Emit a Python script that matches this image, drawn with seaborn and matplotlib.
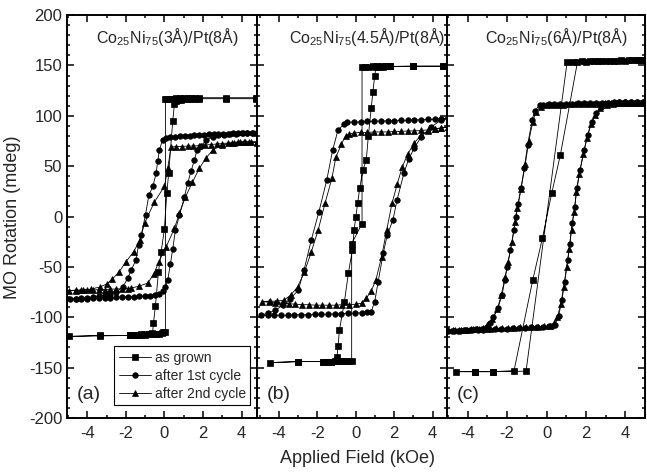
import matplotlib.pyplot as plt
import seaborn as sns
from matplotlib.ticker import MultipleLocator

sns.set_style("ticks")
plt.rcParams['font.family'] = ['Liberation Sans', 'DejaVu Sans']
plt.rcParams['mathtext.default'] = 'regular'
plt.rcParams['axes.unicode_minus'] = False

# %% data: each loop = descending branch then ascending branch
titles = [r'Co$_{25}$Ni$_{75}$(3Å)/Pt(8Å)',
          r'Co$_{25}$Ni$_{75}$(4.5Å)/Pt(8Å)',
          r'Co$_{25}$Ni$_{75}$(6Å)/Pt(8Å)']
panel_tags = ['(a)', '(b)', '(c)']
series_names = ['as grown', 'after 1st cycle', 'after 2nd cycle']

# panel (a)  3 A
a_grown_x = [4.75, 3.2, 1.8, 1.6, 1.4, 1.2, 1.0, 0.85, 0.7, 0.6, 0.52, 0.43, 0.22, 0.12, 0.0,
             -0.17, -0.31, -0.47, -0.57, -0.62, -0.8, -1.0, -1.2, -1.4, -1.6, -1.8, -3.35, -4.95,
             -3.35, -1.8, -1.6, -1.4, -1.2, -1.0, -0.8, -0.6, -0.45, -0.3, -0.15, -0.05, 0.05,
             0.05, 0.15, 0.3, 0.45, 0.6, 0.8, 1.0, 1.2, 1.4, 1.6, 1.8, 3.2, 4.75]
a_grown_y = [117, 117, 117, 117, 117, 117, 117, 116, 116, 115, 112, 95, 43, 23, -12,
             -35, -55, -89, -106, -116, -117, -117, -117, -118, -118, -118, -118, -119,
             -118.5, -118, -118, -118, -117.5, -117.5, -117, -117, -116.5, -116.5, -116, -115, -115,
             117, 117, 117, 117, 117.5, 117.5, 117.5, 117.5, 117.5, 118, 118, 118, 118]
a_first_x = [4.8, 4.55, 4.3, 4.05, 3.8, 3.55, 3.3, 3.05, 2.8, 2.55, 2.3, 2.05, 1.8, 1.55, 1.3,
             1.05, 0.8, 0.55, 0.3, 0.1, -0.1, -0.26, -0.35, -0.43, -0.6, -0.81, -0.98, -1.2,
             -1.34, -1.47, -1.72, -1.9, -2.16, -2.5, -2.8, -3.1, -3.4, -3.7, -4.0, -4.3, -4.6,
             -4.9,
             -4.6, -4.3, -4.0, -3.7, -3.4, -3.1, -2.8, -2.5, -2.2, -1.9, -1.6, -1.3, -1.0,
             -0.75, -0.5, -0.26, -0.1, 0.05, 0.17, 0.31, 0.43, 0.57, 0.78, 1.03, 1.2, 1.38,
             1.55, 1.69, 1.9, 2.16, 2.5, 2.8, 3.1, 3.4, 3.7, 4.0, 4.3, 4.6, 4.8]
a_first_y = [83, 83, 83, 83, 82.5, 82.5, 82, 82, 82, 81.5, 81.5, 81, 81, 80.5, 80,
             80, 79.5, 79, 78.5, 78, 76, 66, 55, 43, 30, 21, 2, -18,
             -28, -43, -53, -61, -70, -75, -77, -78, -79, -80, -80.5, -81, -81.5,
             -82,
             -82, -81.5, -81.5, -81, -81, -80.5, -80.5, -80, -80, -79.5, -79.5, -79, -79,
             -78.5, -78, -77, -74, -70, -63, -47, -32, -13.5, 1.5, 19, 33, 45,
             56, 66, 70, 76, 79, 80.5, 81, 81.5, 82, 82.5, 83, 83, 83]
a_second_x = [4.8, 4.5, 4.2, 3.9, 3.6, 3.3, 3.0, 2.7, 2.4, 2.1, 1.8, 1.5, 1.2, 0.9, 0.6,
              0.34, 0.17, 0.0, -0.52, -1.03, -1.26, -1.6, -2.0, -2.35, -2.7, -3.0, -3.36,
              -3.8, -4.2, -4.6, -4.95,
              -4.6, -4.3, -4.0, -3.7, -3.4, -3.1, -2.8, -2.5, -2.2, -1.9, -1.72, -1.3, -0.86,
              -0.55, -0.29, 0.09, 0.52, 0.78, 1.09, 1.45, 1.81, 2.15, 2.5, 3.0, 3.5, 3.8,
              4.1, 4.4, 4.8]
a_second_y = [74, 74, 74, 74, 73.5, 73, 72.5, 72, 71.5, 71, 70.5, 70, 70, 69.5, 69.5,
              69, 48, 30, 14.5, -6.5, -23, -35, -45, -55, -62, -67, -70,
              -72, -73, -73, -73.5,
              -73.5, -73, -73, -73, -72.5, -72.5, -72, -72, -71.5, -71.5, -71, -69, -66,
              -57, -45, -30, -11.6, 3.5, 19.5, 34, 48, 58, 66, 71, 73, 74,
              74, 74, 74]

# panel (b)  4.5 A
b_grown_x = [4.55, 3.0, 1.8, 1.6, 1.4, 1.2, 1.05, 0.98, 0.89, 0.8, 0.65, 0.54, 0.36, 0.2,
             0.09, 0.0, -0.09, -0.18, -0.39, -0.6, -0.86, -0.93, -0.98, -1.05, -1.3, -1.5,
             -1.7, -3.0, -4.46,
             -3.0, -1.7, -1.5, -1.3, -1.1, -0.9, -0.7, -0.5, -0.35, -0.22, -0.22, 0.32,
             0.32, 0.5, 0.7, 0.9, 1.1, 1.3, 1.5, 1.8, 3.0, 4.55]
b_grown_y = [149, 149, 149, 149, 148.5, 148.5, 148, 140, 124, 108, 80, 56, 46, 28,
             13, 0, -13, -33, -56, -85, -113, -129, -139, -143, -144, -144,
             -144, -144, -145,
             -144, -144, -144, -144, -143.5, -143.5, -143, -143, -143, -143, -27, -7,
             148, 148.5, 148.5, 149, 149, 149, 149, 149, 149.5, 149.5]
b_first_x = [4.8, 4.45, 4.1, 3.75, 3.4, 3.05, 2.7, 2.35, 2.0, 1.65, 1.3, 0.95, 0.6, 0.25,
             -0.1, -0.45, -0.6, -0.93, -1.21, -1.52, -1.93, -2.32, -2.7, -3.0, -3.43,
             -3.8, -4.2, -4.6, -4.95,
             -4.6, -4.25, -3.9, -3.55, -3.2, -2.85, -2.5, -2.15, -1.8, -1.45, -1.1, -0.75,
             -0.4, -0.05, 0.3, 0.6, 0.8, 0.98, 1.16, 1.43, 1.64, 1.93, 2.14, 2.5, 2.75,
             3.04, 3.4, 3.93, 4.46, 4.8]
b_first_y = [97.5, 97, 96.5, 96.5, 96, 96, 95.5, 95.5, 95, 95, 95, 94.5, 94.5, 94,
             94, 93.5, 92, 86, 66, 36, 4.5, -23, -53, -73, -82,
             -88, -93, -96, -98,
             -98, -98, -98, -98, -97.5, -97.5, -97.5, -97, -97, -97, -96.5, -96.5,
             -96, -96, -95.5, -95, -94.5, -84.5, -64.7, -36, -18, -3.5, 16, 43, 57,
             68, 79, 89, 96, 97.5]
b_second_x = [4.8, 4.45, 4.1, 3.75, 3.4, 3.05, 2.7, 2.35, 2.0, 1.65, 1.3, 0.95, 0.6, 0.25,
              -0.1, -0.35, -0.54, -0.75, -1.04, -1.25, -1.61, -1.96, -2.32, -2.68, -3.04,
              -3.4, -3.75, -4.1, -4.5, -4.9,
              -4.55, -4.2, -3.85, -3.5, -3.15, -2.8, -2.45, -2.1, -1.75, -1.4, -1.05, -0.7,
              -0.35, 0.0, 0.3, 0.54, 0.8, 1.04, 1.34, 1.61, 1.88, 2.15, 2.41, 2.7, 3.04,
              3.4, 3.75, 4.1, 4.45, 4.8]
b_second_y = [89, 88, 87, 86, 85.5, 85, 85, 84.5, 84.5, 84, 84, 84, 83.5, 83.5,
              83, 82, 80, 72, 59, 38, 13, -13, -35, -55, -70,
              -78, -83, -84, -84, -84.5,
              -85, -85.5, -86, -86.5, -87, -87.5, -87.5, -88, -88, -88, -88, -87.5,
              -87.5, -87, -86, -81, -74, -63, -40, -13, 13, 32, 49, 62, 73,
              81, 85, 87, 88, 89]

# panel (c)  6 A
c_grown_x = [4.9, 4.7, 4.35, 4.0, 3.65, 3.2, 2.78, 2.43, 2.0, 1.57, 0.7, 0.26, -0.21, -0.7,
             -1.65, -2.7, -3.65, -4.6,
             -3.65, -2.7, -1.04, 1.04, 1.35, 1.8, 2.2, 2.6, 3.0, 3.4, 3.8, 4.2, 4.6, 4.9]
c_grown_y = [155, 155, 155, 154.5, 154.5, 154, 154, 154, 153.5, 153.5, 61, 23, -21.5, -63,
             -153, -154, -154, -154,
             -154, -154, -153.5, 153, 153.5, 154, 154, 154, 154.5, 154.5, 155, 155, 155, 155]
c_first_x = [4.9, 4.6, 4.3, 4.0, 3.7, 3.4, 3.1, 2.8, 2.5, 2.2, 1.9, 1.6, 1.3, 1.0, 0.7,
             0.4, 0.1, -0.2, -0.35, -0.6, -0.73, -0.96, -1.13, -1.3, -1.45, -1.57, -1.65,
             -1.83, -2.0, -2.12, -2.26, -2.47, -2.7, -2.87, -3.04, -3.3, -3.6, -3.9, -4.2,
             -4.5, -4.8, -5.0,
             -4.7, -4.4, -4.1, -3.8, -3.5, -3.2, -2.9, -2.6, -2.3, -2.0, -1.7, -1.4, -1.1,
             -0.8, -0.5, -0.2, 0.1, 0.3, 0.43, 0.61, 0.78, 0.92, 1.08, 1.18, 1.3, 1.43,
             1.53, 1.7, 1.91, 2.09, 2.3, 2.52, 2.78, 3.13, 3.4, 3.7, 4.0, 4.3, 4.6, 4.9]
c_first_y = [114, 114, 114, 114, 113.5, 113.5, 113, 113, 113, 112.5, 112.5, 112.5, 112, 112,
             112, 111.5, 111.5, 111, 110.7, 105, 96, 71, 48, 28, 12, 0, -13,
             -33, -50, -63, -78, -91, -100, -106, -110, -111.5, -112, -112.5, -113,
             -113.5, -114, -114,
             -113.5, -113.5, -113, -113, -112.5, -112.5, -112, -112, -111.5, -111.5, -111,
             -111, -110.5, -110, -110, -109.5, -109, -108.5, -107.7, -99, -83, -65, -43,
             -27, -6.6, 9.5, 28, 46, 66, 81, 94, 102.6, 109, 112.6, 113, 113.5, 113.5,
             114, 114, 114]
c_second_x = [4.75, 4.45, 4.15, 3.85, 3.55, 3.25, 2.95, 2.65, 2.35, 2.05, 1.75, 1.45, 1.15,
              0.85, 0.55, 0.25, -0.05, -0.3, -0.55, -0.7, -0.9, -1.08, -1.3, -1.48, -1.6,
              -1.75, -1.95, -2.1, -2.3, -2.5, -2.75, -3.0, -3.25, -3.55, -3.85, -4.15,
              -4.45, -4.75, -5.0,
              -4.65, -4.35, -4.05, -3.75, -3.45, -3.15, -2.85, -2.55, -2.25, -1.95, -1.65,
              -1.35, -1.05, -0.75, -0.45, -0.15, 0.15, 0.38, 0.55, 0.72, 0.87, 1.02, 1.15,
              1.27, 1.4, 1.52, 1.66, 1.86, 2.05, 2.25, 2.47, 2.72, 3.05, 3.35, 3.65, 3.95,
              4.25, 4.55, 4.85]
c_second_y = [113, 113, 113, 113, 112.5, 112.5, 112.5, 112, 112, 112, 111.5, 111.5, 111.5,
              111, 111, 110.5, 110.5, 109, 104, 94, 75, 52, 27, 8, -5,
              -25, -45, -60, -78, -92, -102, -108, -110.5, -111.5, -112, -112.5,
              -113, -113, -113,
              -113, -112.5, -112.5, -112, -112, -111.5, -111.5, -111, -111, -110.5, -110.5,
              -110, -110, -109.5, -109.5, -109, -108.5, -106, -100, -87, -70, -50, -32,
              -13, 5, 24, 42, 62, 78, 92, 101, 107.5, 111, 112, 112.5, 113,
              113, 113, 113]

panels = [
    [(a_grown_x, a_grown_y), (a_first_x, a_first_y), (a_second_x, a_second_y)],
    [(b_grown_x, b_grown_y), (b_first_x, b_first_y), (b_second_x, b_second_y)],
    [(c_grown_x, c_grown_y), (c_first_x, c_first_y), (c_second_x, c_second_y)],
]
xlims = [(-5.05, 4.8), (-5.15, 4.75), (-5.05, 5.0)]
title_pos = [0.53, 0.58, 0.55]
styles = [('s', 4.2), ('o', 4.0), ('^', 4.6)]

# %% plot
fig = plt.figure(figsize=(6.47, 4.72), dpi=100)
axes = fig.subplots(1, 3, sharey=True, gridspec_kw={'width_ratios': [190, 190, 198]})
fig.subplots_adjust(left=0.1036, right=0.997, top=0.968, bottom=0.1144, wspace=0)

for i, ax in enumerate(axes):
    for (xs, ys), (mk, ms), name in zip(panels[i], styles, series_names):
        sns.lineplot(x=xs, y=ys, sort=False, estimator=None, ax=ax, color='k',
                     lw=0.6, marker=mk, markersize=ms, markeredgecolor='k',
                     markeredgewidth=0.5, label=name, legend=False)
    ax.set_xlim(*xlims[i])
    ax.set_ylim(-200, 200)
    ax.set_xticks([-4, -2, 0, 2, 4])
    ax.xaxis.set_minor_locator(MultipleLocator(1))
    ax.yaxis.set_major_locator(MultipleLocator(50))
    ax.yaxis.set_minor_locator(MultipleLocator(10))
    ax.tick_params(which='both', direction='in', top=True, right=True,
                   labelsize=12, width=1.1, color='k')
    ax.tick_params(which='major', length=5)
    ax.tick_params(which='minor', length=2.5)
    ax.tick_params(axis='x', which='major', pad=6)
    for sp in ax.spines.values():
        sp.set_linewidth(1.4)
        sp.set_color('k')
    ax.set_xlabel('')
    ax.set_ylabel('')
    ax.text(title_pos[i], 0.945, titles[i], transform=ax.transAxes,
            ha='center', va='center', fontsize=11.5)
    ax.text(0.05, 0.058, panel_tags[i], transform=ax.transAxes,
            ha='left', va='center', fontsize=14)

leg = axes[0].legend(handles=axes[0].lines[:3], labels=series_names,
                     loc='lower right', bbox_to_anchor=(0.963, 0.032), borderaxespad=0,
                     fontsize=10, frameon=True, fancybox=False, framealpha=1,
                     edgecolor='k', borderpad=0.3, labelspacing=0.3,
                     handlelength=2.3, handletextpad=0.3)
leg.get_frame().set_linewidth(0.8)

fig.text(0.552, 0.028, 'Applied Field (kOe)', ha='center', va='center', fontsize=13)
fig.text(0.02, 0.54, 'MO Rotation (mdeg)', ha='center', va='center',
         rotation=90, fontsize=13)

plt.savefig('out.png', dpi=100)
